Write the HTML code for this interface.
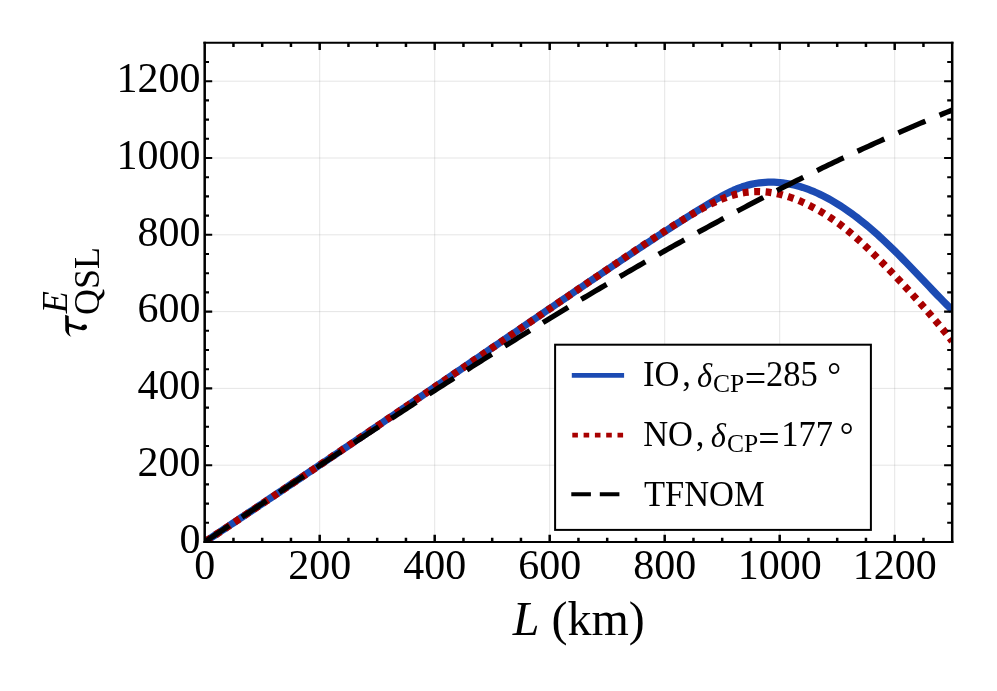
<!DOCTYPE html>
<html><head><meta charset="utf-8"><title>QSL time vs L</title>
<style>html,body{margin:0;padding:0;background:#fff;}body{width:997px;height:691px;overflow:hidden;font-family:"Liberation Serif",serif;}svg{display:block;will-change:transform;}text{font-family:"Liberation Serif",serif;fill:#000;}.it{font-style:italic;}</style></head><body>
<svg width="997" height="691" viewBox="0 0 997 691">
<rect x="0" y="0" width="997" height="691" fill="#ffffff"/>
<defs><clipPath id="clip"><rect x="204.70" y="42.80" width="747.50" height="499.20"/></clipPath></defs>
<g stroke="#808080" stroke-opacity="0.4" stroke-width="0.52" fill="none">
<line x1="319.70" y1="42.80" x2="319.70" y2="542.00"/>
<line x1="204.70" y1="465.20" x2="952.20" y2="465.20"/>
<line x1="434.70" y1="42.80" x2="434.70" y2="542.00"/>
<line x1="204.70" y1="388.40" x2="952.20" y2="388.40"/>
<line x1="549.70" y1="42.80" x2="549.70" y2="542.00"/>
<line x1="204.70" y1="311.60" x2="952.20" y2="311.60"/>
<line x1="664.70" y1="42.80" x2="664.70" y2="542.00"/>
<line x1="204.70" y1="234.80" x2="952.20" y2="234.80"/>
<line x1="779.70" y1="42.80" x2="779.70" y2="542.00"/>
<line x1="204.70" y1="158.00" x2="952.20" y2="158.00"/>
<line x1="894.70" y1="42.80" x2="894.70" y2="542.00"/>
<line x1="204.70" y1="81.20" x2="952.20" y2="81.20"/>
</g>
<g clip-path="url(#clip)" fill="none" stroke-linejoin="round">
<path d="M204.70,542.00L207.57,540.09L210.45,538.18L213.32,536.26L216.20,534.35L219.07,532.44L221.95,530.52L224.82,528.61L227.70,526.69L230.57,524.78L233.45,522.86L236.32,520.95L239.20,519.03L242.07,517.11L244.95,515.19L247.82,513.27L250.70,511.35L253.57,509.43L256.45,507.51L259.32,505.59L262.20,503.67L265.07,501.74L267.95,499.82L270.82,497.89L273.70,495.97L276.57,494.04L279.45,492.12L282.32,490.19L285.20,488.26L288.07,486.33L290.95,484.40L293.82,482.47L296.70,480.54L299.57,478.61L302.45,476.68L305.32,474.74L308.20,472.81L311.07,470.88L313.95,468.94L316.82,467.01L319.70,465.07L322.57,463.13L325.45,461.19L328.32,459.25L331.20,457.31L334.07,455.37L336.95,453.43L339.82,451.49L342.70,449.55L345.57,447.61L348.45,445.66L351.32,443.72L354.20,441.77L357.07,439.83L359.95,437.88L362.82,435.93L365.70,433.99L368.57,432.04L371.45,430.09L374.32,428.14L377.20,426.19L380.07,424.24L382.95,422.29L385.82,420.33L388.70,418.38L391.57,416.43L394.45,414.48L397.32,412.52L400.20,410.57L403.07,408.61L405.95,406.66L408.82,404.70L411.70,402.74L414.57,400.79L417.45,398.83L420.32,396.87L423.20,394.91L426.07,392.95L428.95,390.99L431.82,389.03L434.70,387.07L437.57,385.11L440.45,383.15L443.32,381.19L446.20,379.23L449.07,377.27L451.95,375.31L454.82,373.35L457.70,371.38L460.57,369.42L463.45,367.46L466.32,365.50L469.20,363.54L472.07,361.57L474.95,359.61L477.82,357.65L480.70,355.68L483.57,353.72L486.45,351.76L489.32,349.79L492.20,347.83L495.07,345.87L497.95,343.91L500.82,341.94L503.70,339.98L506.57,338.02L509.45,336.06L512.33,334.10L515.20,332.14L518.08,330.17L520.95,328.21L523.83,326.25L526.70,324.29L529.58,322.33L532.45,320.37L535.33,318.42L538.20,316.46L541.08,314.50L543.95,312.54L546.83,310.59L549.70,308.63L552.58,306.68L555.45,304.72L558.33,302.77L561.20,300.81L564.08,298.86L566.95,296.91L569.83,294.96L572.70,293.01L575.57,291.06L578.45,289.11L581.32,287.17L584.20,285.22L587.07,283.28L589.95,281.33L592.82,279.39L595.70,277.45L598.57,275.51L601.45,273.57L604.32,271.64L607.20,269.70L610.07,267.77L612.95,265.84L615.82,263.91L618.70,261.98L621.57,260.06L624.45,258.13L627.32,256.21L630.20,254.30L633.07,252.38L635.95,250.47L638.82,248.56L641.70,246.66L644.57,244.76L647.45,242.86L650.32,240.97L653.20,239.08L656.07,237.19L658.95,235.31L661.82,233.44L664.70,231.57L667.57,229.71L670.45,227.85L673.32,225.99L676.20,224.15L679.07,222.31L681.95,220.48L684.82,218.65L687.70,216.83L690.57,215.02L693.45,213.22L696.32,211.42L699.20,209.64L702.07,207.86L704.95,206.10L707.82,204.35L710.70,202.61L713.57,200.90L716.45,199.21L719.33,197.56L722.20,195.96L725.08,194.41L727.95,192.93L730.83,191.53L733.70,190.22L736.58,188.99L739.45,187.87L742.33,186.84L745.20,185.92L748.08,185.11L750.95,184.39L753.83,183.78L756.70,183.26L759.58,182.84L762.45,182.52L765.33,182.30L768.20,182.16L771.08,182.12L773.95,182.17L776.83,182.32L779.70,182.54L782.58,182.86L785.45,183.26L788.33,183.75L791.20,184.32L794.08,184.97L796.95,185.70L799.83,186.51L802.70,187.40L805.58,188.37L808.45,189.42L811.33,190.54L814.20,191.73L817.08,193.00L819.95,194.33L822.83,195.74L825.70,197.22L828.58,198.77L831.45,200.38L834.33,202.06L837.20,203.81L840.08,205.62L842.95,207.49L845.83,209.43L848.70,211.43L851.58,213.49L854.45,215.61L857.33,217.78L860.20,220.02L863.08,222.31L865.95,224.66L868.83,227.06L871.70,229.52L874.58,232.03L877.45,234.59L880.33,237.20L883.20,239.85L886.08,242.55L888.95,245.30L891.83,248.08L894.70,250.90L897.58,253.76L900.45,256.65L903.33,259.57L906.20,262.51L909.08,265.48L911.95,268.47L914.83,271.47L917.70,274.49L920.58,277.51L923.45,280.54L926.33,283.57L929.20,286.60L932.08,289.61L934.95,292.62L937.83,295.60L940.70,298.56L943.57,301.49L946.45,304.39L949.32,307.25L952.20,310.06" stroke="#1c4bb3" stroke-width="7.3"/>
<path d="M204.70,542.00L207.57,540.10L210.45,538.19L213.32,536.29L216.20,534.38L219.07,532.48L221.95,530.57L224.82,528.66L227.70,526.75L230.57,524.84L233.45,522.92L236.32,521.01L239.20,519.09L242.07,517.18L244.95,515.26L247.82,513.34L250.70,511.42L253.57,509.50L256.45,507.57L259.32,505.65L262.20,503.73L265.07,501.80L267.95,499.88L270.82,497.95L273.70,496.02L276.57,494.09L279.45,492.16L282.32,490.23L285.20,488.30L288.07,486.37L290.95,484.43L293.82,482.50L296.70,480.56L299.57,478.63L302.45,476.69L305.32,474.76L308.20,472.82L311.07,470.88L313.95,468.94L316.82,467.00L319.70,465.06L322.57,463.12L325.45,461.18L328.32,459.23L331.20,457.29L334.07,455.35L336.95,453.40L339.82,451.46L342.70,449.51L345.57,447.57L348.45,445.62L351.32,443.67L354.20,441.73L357.07,439.78L359.95,437.83L362.82,435.88L365.70,433.93L368.57,431.98L371.45,430.03L374.32,428.08L377.20,426.13L380.07,424.18L382.95,422.23L385.82,420.28L388.70,418.32L391.57,416.37L394.45,414.42L397.32,412.47L400.20,410.51L403.07,408.56L405.95,406.60L408.82,404.65L411.70,402.69L414.57,400.74L417.45,398.78L420.32,396.83L423.20,394.87L426.07,392.92L428.95,390.96L431.82,389.01L434.70,387.05L437.57,385.09L440.45,383.14L443.32,381.18L446.20,379.22L449.07,377.26L451.95,375.31L454.82,373.35L457.70,371.39L460.57,369.43L463.45,367.48L466.32,365.52L469.20,363.56L472.07,361.60L474.95,359.64L477.82,357.69L480.70,355.73L483.57,353.77L486.45,351.81L489.32,349.85L492.20,347.89L495.07,345.93L497.95,343.97L500.82,342.01L503.70,340.06L506.57,338.10L509.45,336.14L512.33,334.18L515.20,332.22L518.08,330.26L520.95,328.30L523.83,326.34L526.70,324.38L529.58,322.42L532.45,320.46L535.33,318.50L538.20,316.54L541.08,314.58L543.95,312.62L546.83,310.67L549.70,308.71L552.58,306.75L555.45,304.79L558.33,302.83L561.20,300.87L564.08,298.91L566.95,296.95L569.83,294.99L572.70,293.03L575.57,291.07L578.45,289.11L581.32,287.15L584.20,285.19L587.07,283.23L589.95,281.27L592.82,279.31L595.70,277.35L598.57,275.39L601.45,273.43L604.32,271.48L607.20,269.52L610.07,267.57L612.95,265.61L615.82,263.66L618.70,261.71L621.57,259.76L624.45,257.82L627.32,255.88L630.20,253.94L633.07,252.01L635.95,250.08L638.82,248.16L641.70,246.24L644.57,244.33L647.45,242.43L650.32,240.53L653.20,238.64L656.07,236.76L658.95,234.89L661.82,233.03L664.70,231.18L667.57,229.34L670.45,227.52L673.32,225.70L676.20,223.91L679.07,222.12L681.95,220.35L684.82,218.61L687.70,216.88L690.57,215.17L693.45,213.48L696.32,211.83L699.20,210.20L702.07,208.61L704.95,207.06L707.82,205.55L710.70,204.09L713.57,202.69L716.45,201.34L719.33,200.07L722.20,198.86L725.08,197.74L727.95,196.70L730.83,195.75L733.70,194.90L736.58,194.15L739.45,193.50L742.33,192.95L745.20,192.50L748.08,192.15L750.95,191.89L753.83,191.72L756.70,191.65L759.58,191.66L762.45,191.76L765.33,191.95L768.20,192.23L771.08,192.60L773.95,193.05L776.83,193.60L779.70,194.23L782.58,194.96L785.45,195.76L788.33,196.66L791.20,197.63L794.08,198.67L796.95,199.79L799.83,200.98L802.70,202.24L805.58,203.56L808.45,204.94L811.33,206.39L814.20,207.90L817.08,209.48L819.95,211.12L822.83,212.83L825.70,214.61L828.58,216.45L831.45,218.37L834.33,220.35L837.20,222.41L840.08,224.54L842.95,226.74L845.83,229.00L848.70,231.34L851.58,233.75L854.45,236.22L857.33,238.75L860.20,241.34L863.08,243.98L865.95,246.67L868.83,249.41L871.70,252.18L874.58,255.00L877.45,257.85L880.33,260.73L883.20,263.64L886.08,266.58L888.95,269.54L891.83,272.53L894.70,275.54L897.58,278.57L900.45,281.62L903.33,284.69L906.20,287.78L909.08,290.89L911.95,294.02L914.83,297.18L917.70,300.35L920.58,303.55L923.45,306.78L926.33,310.04L929.20,313.33L932.08,316.65L934.95,320.01L937.83,323.41L940.70,326.86L943.57,330.35L946.45,333.90L949.32,337.50L952.20,341.17" stroke="#a80000" stroke-width="7.3" stroke-dasharray="5.9 5.55" stroke-dashoffset="-1.5"/>
<path d="M204.70,542.00L207.57,540.08L210.45,538.16L213.32,536.24L216.20,534.32L219.07,532.40L221.95,530.48L224.82,528.56L227.70,526.64L230.57,524.72L233.45,522.80L236.32,520.89L239.20,518.97L242.07,517.05L244.95,515.13L247.82,513.21L250.70,511.30L253.57,509.38L256.45,507.46L259.32,505.55L262.20,503.63L265.07,501.72L267.95,499.80L270.82,497.89L273.70,495.98L276.57,494.06L279.45,492.15L282.32,490.24L285.20,488.33L288.07,486.42L290.95,484.51L293.82,482.60L296.70,480.69L299.57,478.78L302.45,476.88L305.32,474.97L308.20,473.07L311.07,471.16L313.95,469.26L316.82,467.36L319.70,465.46L322.57,463.55L325.45,461.66L328.32,459.76L331.20,457.86L334.07,455.96L336.95,454.07L339.82,452.17L342.70,450.28L345.57,448.39L348.45,446.50L351.32,444.61L354.20,442.72L357.07,440.83L359.95,438.95L362.82,437.06L365.70,435.18L368.57,433.30L371.45,431.42L374.32,429.54L377.20,427.66L380.07,425.78L382.95,423.91L385.82,422.04L388.70,420.16L391.57,418.29L394.45,416.42L397.32,414.56L400.20,412.69L403.07,410.83L405.95,408.96L408.82,407.10L411.70,405.24L414.57,403.39L417.45,401.53L420.32,399.68L423.20,397.83L426.07,395.97L428.95,394.13L431.82,392.28L434.70,390.43L437.57,388.59L440.45,386.75L443.32,384.91L446.20,383.07L449.07,381.24L451.95,379.41L454.82,377.58L457.70,375.75L460.57,373.92L463.45,372.09L466.32,370.27L469.20,368.45L472.07,366.63L474.95,364.82L477.82,363.00L480.70,361.19L483.57,359.38L486.45,357.57L489.32,355.77L492.20,353.97L495.07,352.16L497.95,350.37L500.82,348.57L503.70,346.78L506.57,344.99L509.45,343.20L512.33,341.41L515.20,339.63L518.08,337.85L520.95,336.07L523.83,334.29L526.70,332.52L529.58,330.75L532.45,328.98L535.33,327.22L538.20,325.46L541.08,323.70L543.95,321.94L546.83,320.18L549.70,318.43L552.58,316.68L555.45,314.94L558.33,313.19L561.20,311.45L564.08,309.72L566.95,307.98L569.83,306.25L572.70,304.52L575.57,302.80L578.45,301.07L581.32,299.35L584.20,297.64L587.07,295.92L589.95,294.21L592.82,292.51L595.70,290.80L598.57,289.10L601.45,287.40L604.32,285.71L607.20,284.02L610.07,282.33L612.95,280.64L615.82,278.96L618.70,277.28L621.57,275.61L624.45,273.93L627.32,272.26L630.20,270.60L633.07,268.94L635.95,267.28L638.82,265.62L641.70,263.97L644.57,262.32L647.45,260.68L650.32,259.04L653.20,257.40L656.07,255.76L658.95,254.13L661.82,252.51L664.70,250.88L667.57,249.26L670.45,247.65L673.32,246.04L676.20,244.43L679.07,242.82L681.95,241.22L684.82,239.62L687.70,238.03L690.57,236.44L693.45,234.85L696.32,233.27L699.20,231.69L702.07,230.12L704.95,228.55L707.82,226.98L710.70,225.42L713.57,223.86L716.45,222.30L719.33,220.75L722.20,219.20L725.08,217.66L727.95,216.12L730.83,214.59L733.70,213.06L736.58,211.53L739.45,210.01L742.33,208.49L745.20,206.97L748.08,205.46L750.95,203.96L753.83,202.46L756.70,200.96L759.58,199.46L762.45,197.98L765.33,196.49L768.20,195.01L771.08,193.53L773.95,192.06L776.83,190.60L779.70,189.13L782.58,187.67L785.45,186.22L788.33,184.77L791.20,183.32L794.08,181.88L796.95,180.45L799.83,179.02L802.70,177.59L805.58,176.17L808.45,174.75L811.33,173.33L814.20,171.93L817.08,170.52L819.95,169.12L822.83,167.73L825.70,166.34L828.58,164.95L831.45,163.57L834.33,162.19L837.20,160.82L840.08,159.45L842.95,158.09L845.83,156.73L848.70,155.38L851.58,154.03L854.45,152.69L857.33,151.35L860.20,150.02L863.08,148.69L865.95,147.37L868.83,146.05L871.70,144.74L874.58,143.43L877.45,142.13L880.33,140.83L883.20,139.53L886.08,138.24L888.95,136.96L891.83,135.68L894.70,134.41L897.58,133.14L900.45,131.88L903.33,130.62L906.20,129.37L909.08,128.12L911.95,126.88L914.83,125.64L917.70,124.41L920.58,123.18L923.45,121.96L926.33,120.74L929.20,119.53L932.08,118.32L934.95,117.12L937.83,115.93L940.70,114.74L943.57,113.55L946.45,112.37L949.32,111.20L952.20,110.03" stroke="#000" stroke-width="5.3" stroke-dasharray="29.5 15.3"/>
</g>
<rect x="555.1" y="344.7" width="315.80" height="185.20" fill="#fff" stroke="#000" stroke-width="2.0"/>
<line x1="571.8" y1="375.4" x2="624.1" y2="375.4" stroke="#1c4bb3" stroke-width="4.6"/>
<line x1="572.3" y1="435.2" x2="624.4" y2="435.2" stroke="#a80000" stroke-width="4.8" stroke-dasharray="5.6 5.7"/>
<line x1="571.3" y1="494.2" x2="624.1" y2="494.2" stroke="#000" stroke-width="3.9" stroke-dasharray="19.6 8.9"/>
<text transform="translate(642.95,385.80) scale(1,1.06)" font-size="34.5">IO</text>
<text transform="translate(682.19,385.80) scale(1,1.06)" font-size="34.5">,</text>
<text transform="translate(697.05,386.80) scale(1,1.06)" font-size="32.5" class="it">δ</text>
<text transform="translate(712.95,392.20) scale(1,1.0)" font-size="25.5">CP</text>
<text transform="translate(744.71,391.80) scale(1,1.06)" font-size="38">=</text>
<text transform="translate(766.08,385.80) scale(1,1.06)" font-size="34.5">285</text>
<text transform="translate(827.25,386.80) scale(1,1.06)" font-size="34.5">°</text>
<text transform="translate(643.21,445.70) scale(1,1.06)" font-size="34.5">NO</text>
<text transform="translate(695.79,445.70) scale(1,1.06)" font-size="34.5">,</text>
<text transform="translate(710.85,446.70) scale(1,1.06)" font-size="32.5" class="it">δ</text>
<text transform="translate(727.05,452.10) scale(1,1.0)" font-size="25.5">CP</text>
<text transform="translate(758.31,451.70) scale(1,1.06)" font-size="38">=</text>
<text transform="translate(781.27,445.70) scale(1,1.06)" font-size="34.5">177</text>
<text transform="translate(839.85,446.70) scale(1,1.06)" font-size="34.5">°</text>
<text transform="translate(643.88,505.80) scale(1,1.06)" font-size="34.5">TFNOM</text>
<path d="M233.45,542.00V537.80M233.45,42.80V47.00M262.20,542.00V537.80M262.20,42.80V47.00M290.95,542.00V537.80M290.95,42.80V47.00M319.70,542.00V534.70M319.70,42.80V50.10M348.45,542.00V537.80M348.45,42.80V47.00M377.20,542.00V537.80M377.20,42.80V47.00M405.95,542.00V537.80M405.95,42.80V47.00M434.70,542.00V534.70M434.70,42.80V50.10M463.45,542.00V537.80M463.45,42.80V47.00M492.20,542.00V537.80M492.20,42.80V47.00M520.95,542.00V537.80M520.95,42.80V47.00M549.70,542.00V534.70M549.70,42.80V50.10M578.45,542.00V537.80M578.45,42.80V47.00M607.20,542.00V537.80M607.20,42.80V47.00M635.95,542.00V537.80M635.95,42.80V47.00M664.70,542.00V534.70M664.70,42.80V50.10M693.45,542.00V537.80M693.45,42.80V47.00M722.20,542.00V537.80M722.20,42.80V47.00M750.95,542.00V537.80M750.95,42.80V47.00M779.70,542.00V534.70M779.70,42.80V50.10M808.45,542.00V537.80M808.45,42.80V47.00M837.20,542.00V537.80M837.20,42.80V47.00M865.95,542.00V537.80M865.95,42.80V47.00M894.70,542.00V534.70M894.70,42.80V50.10M923.45,542.00V537.80M923.45,42.80V47.00" stroke="#000" stroke-width="2.5" fill="none"/>
<path d="M204.70,522.80H209.00M952.20,522.80H947.20M204.70,503.60H209.00M952.20,503.60H947.20M204.70,484.40H209.00M952.20,484.40H947.20M204.70,465.20H212.20M952.20,465.20H944.10M204.70,446.00H209.00M952.20,446.00H947.20M204.70,426.80H209.00M952.20,426.80H947.20M204.70,407.60H209.00M952.20,407.60H947.20M204.70,388.40H212.20M952.20,388.40H944.10M204.70,369.20H209.00M952.20,369.20H947.20M204.70,350.00H209.00M952.20,350.00H947.20M204.70,330.80H209.00M952.20,330.80H947.20M204.70,311.60H212.20M952.20,311.60H944.10M204.70,292.40H209.00M952.20,292.40H947.20M204.70,273.20H209.00M952.20,273.20H947.20M204.70,254.00H209.00M952.20,254.00H947.20M204.70,234.80H212.20M952.20,234.80H944.10M204.70,215.60H209.00M952.20,215.60H947.20M204.70,196.40H209.00M952.20,196.40H947.20M204.70,177.20H209.00M952.20,177.20H947.20M204.70,158.00H212.20M952.20,158.00H944.10M204.70,138.80H209.00M952.20,138.80H947.20M204.70,119.60H209.00M952.20,119.60H947.20M204.70,100.40H209.00M952.20,100.40H947.20M204.70,81.20H212.20M952.20,81.20H944.10M204.70,62.00H209.00M952.20,62.00H947.20" stroke="#000" stroke-width="2.1" fill="none"/>
<path d="M203.45,42.80H953.45M203.45,542.00H953.45" stroke="#000" stroke-width="2.1" fill="none"/>
<path d="M204.70,41.75V543.05M952.20,41.75V543.05" stroke="#000" stroke-width="2.5" fill="none"/>
<g font-size="42">
<text transform="translate(204.70,578.9) scale(1,1.025)" text-anchor="middle">0</text>
<text transform="translate(200.6,552.80) scale(1,1.025)" text-anchor="end">0</text>
<text transform="translate(319.70,578.9) scale(1,1.025)" text-anchor="middle">200</text>
<text transform="translate(200.6,476.00) scale(1,1.025)" text-anchor="end">200</text>
<text transform="translate(434.70,578.9) scale(1,1.025)" text-anchor="middle">400</text>
<text transform="translate(200.6,399.20) scale(1,1.025)" text-anchor="end">400</text>
<text transform="translate(549.70,578.9) scale(1,1.025)" text-anchor="middle">600</text>
<text transform="translate(200.6,322.40) scale(1,1.025)" text-anchor="end">600</text>
<text transform="translate(664.70,578.9) scale(1,1.025)" text-anchor="middle">800</text>
<text transform="translate(200.6,245.60) scale(1,1.025)" text-anchor="end">800</text>
<text transform="translate(779.70,578.9) scale(1,1.025)" text-anchor="middle">1000</text>
<text transform="translate(200.6,168.80) scale(1,1.025)" text-anchor="end">1000</text>
<text transform="translate(894.70,578.9) scale(1,1.025)" text-anchor="middle">1200</text>
<text transform="translate(200.6,92.00) scale(1,1.025)" text-anchor="end">1200</text>
</g>
<text x="578.8" y="635" font-size="48" text-anchor="middle"><tspan class="it">L</tspan> (km)</text>
<path d="M175,168 L236,188 L240,318 C300,335 400,365 450,378 C465,350 490,335 515,337 C545,340 555,365 553,385 C550,415 520,438 480,435 C440,430 330,400 242,375 L242,465 C245,500 265,530 285,550 C240,535 190,490 178,440 Z" transform="translate(55,305) scale(0.057887)" fill="#000"/>
<g transform="translate(86.5,336.5) rotate(-90)">
<text x="23.2" y="-20" font-size="36" class="it">E</text>
<text x="21.5" y="12.7" font-size="36">QSL</text>
</g>
</svg></body></html>
